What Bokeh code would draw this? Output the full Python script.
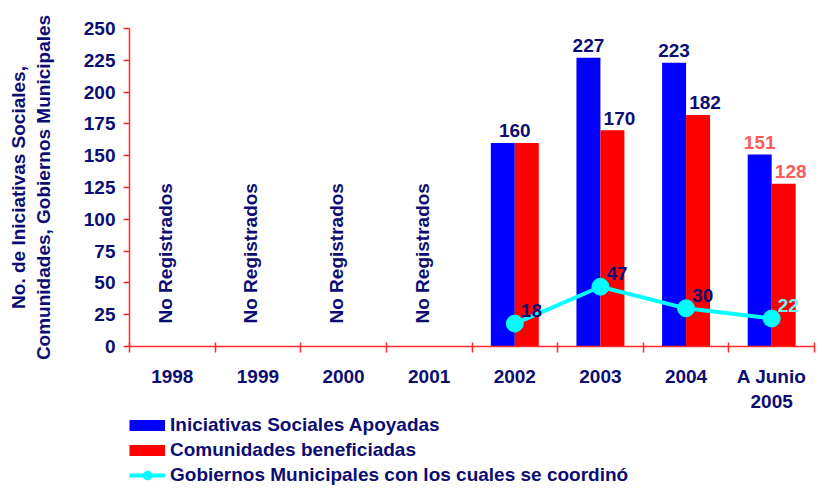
import math
from bokeh.plotting import figure
from bokeh.layouts import column
from bokeh.models import Range1d, FixedTicker, Legend, LegendItem, ColumnDataSource
from bokeh.core.properties import value
from bokeh.embed import file_html
from bokeh.resources import INLINE

# ---- data ----
categories = ["1998", "1999", "2000", "2001", "2002", "2003", "2004", "A Junio\n2005"]
iniciativas = [None, None, None, None, 160, 227, 223, 151]
comunidades = [None, None, None, None, 160, 170, 182, 128]
gobiernos = [None, None, None, None, 18, 47, 30, 22]
y_ticks = [0, 25, 50, 75, 100, 125, 150, 175, 200, 225, 250]
no_data_text = "No Registrados"
series_names = ["Iniciativas Sociales Apoyadas",
                "Comunidades beneficiadas",
                "Gobiernos Municipales con los cuales se coordinó"]
y_title = "No. de Iniciativas Sociales,\nComunidades, Gobiernos Municipales"

# ---- styles ----
FONT = "Liberation Sans"
FS = "19px"
NAVY = "#0C0C72"
BLUE = "#0000FF"
RED = "#FF0000"
CYAN = "#00FFFF"
AXIS_RED = "#FF2A2A"
SALMON = "#FF5A5A"
PALE_CYAN = "#70F4F4"
DODGE = 0.14
BAR_W = 0.28

n = len(categories)
p = figure(width=816, height=414, x_range=Range1d(-0.5, n - 0.5), y_range=Range1d(0, 250),
           output_backend="svg", toolbar_location=None,
           min_border_left=129, min_border_right=2, min_border_top=28, min_border_bottom=60)
p.outline_line_color = None
p.xgrid.visible = False
p.ygrid.visible = False
p.background_fill_color = "white"

idx = [i for i, v in enumerate(iniciativas) if v is not None]
last = n - 1

# bars
src_b = ColumnDataSource(dict(x=[i - DODGE for i in idx], top=[iniciativas[i] for i in idx]))
src_r = ColumnDataSource(dict(x=[i + DODGE for i in idx], top=[comunidades[i] for i in idx]))
rb = p.vbar(x="x", top="top", width=BAR_W, source=src_b, fill_color=BLUE, line_color=None)
rr = p.vbar(x="x", top="top", width=BAR_W, source=src_r, fill_color=RED, line_color=None)

# line
gidx = [i for i, v in enumerate(gobiernos) if v is not None]
src_g = ColumnDataSource(dict(x=gidx, y=[gobiernos[i] for i in gidx]))
rl = p.line(x="x", y="y", source=src_g, line_width=4, line_color=CYAN)
rc = p.scatter(x="x", y="y", source=src_g, size=17, fill_color=CYAN, line_color=CYAN)

# bar value labels
lx, ly, lt, lc, lo = [], [], [], [], []
for i in idx:
    col = SALMON if i == last else NAVY
    if iniciativas[i] == comunidades[i]:
        lx.append(i); ly.append(iniciativas[i]); lt.append(str(iniciativas[i])); lc.append(col); lo.append(0)
    else:
        lx.append(i - DODGE); ly.append(iniciativas[i]); lt.append(str(iniciativas[i])); lc.append(col); lo.append(0)
        lx.append(i + DODGE); ly.append(comunidades[i]); lt.append(str(comunidades[i])); lc.append(col); lo.append(7)
p.text(x="x", y="y", text="t", text_color="c", x_offset="o",
       source=ColumnDataSource(dict(x=lx, y=ly, t=lt, c=lc, o=lo)),
       text_align="center", text_baseline="alphabetic", y_offset=-12,
       text_font=value(FONT), text_font_style="bold", text_font_size=FS)

# line value labels
gc = [PALE_CYAN if i == last else NAVY for i in gidx]
p.text(x="x", y="y", text="t", text_color="c",
       source=ColumnDataSource(dict(x=gidx, y=[gobiernos[i] for i in gidx],
                                    t=[str(gobiernos[i]) for i in gidx], c=gc)),
       text_align="left", text_baseline="alphabetic", x_offset=6, y_offset=-13,
       text_font=value(FONT), text_font_style="bold", text_font_size=FS)

# "No Registrados" labels
nidx = [i for i, v in enumerate(iniciativas) if v is None]
p.text(x=nidx, y=[0] * len(nidx), text=[no_data_text] * len(nidx), angle=math.pi / 2,
       text_align="left", text_baseline="alphabetic", x_offset=-7, y_offset=-23,
       text_color=NAVY, text_font=value(FONT), text_font_style="bold", text_font_size=FS)

# axes
xa = p.xaxis[0]
xa.ticker = FixedTicker(ticks=list(range(n)), minor_ticks=[i - 0.5 for i in range(n + 1)])
xa.major_label_overrides = {i: categories[i] for i in range(n)}
xa.major_tick_line_color = None
xa.major_tick_in = 0
xa.major_tick_out = 0
xa.minor_tick_line_color = AXIS_RED
xa.minor_tick_line_width = 1.5
xa.minor_tick_in = 4
xa.minor_tick_out = 6
xa.axis_line_color = AXIS_RED
xa.axis_line_width = 1.5
xa.major_label_standoff = 13
xa.major_label_text_font = FONT
xa.major_label_text_font_style = "bold"
xa.major_label_text_font_size = FS
xa.major_label_text_color = NAVY

ya = p.yaxis[0]
ya.ticker = FixedTicker(ticks=y_ticks)
ya.major_tick_in = 0
ya.major_tick_out = 6
ya.major_tick_line_color = AXIS_RED
ya.major_tick_line_width = 1.5
ya.minor_tick_line_color = None
ya.axis_line_color = AXIS_RED
ya.axis_line_width = 1.5
ya.major_label_standoff = 8
ya.major_label_text_font = FONT
ya.major_label_text_font_style = "bold"
ya.major_label_text_font_size = FS
ya.major_label_text_color = NAVY
ya.axis_label = y_title
ya.axis_label_text_font = FONT
ya.axis_label_text_font_style = "bold"
ya.axis_label_text_font_size = FS
ya.axis_label_text_color = NAVY
ya.axis_label_standoff = 27

# ---- legend strip (separate figure, proxies hold no visible data) ----
lg = figure(width=816, height=72, x_range=Range1d(0, 1), y_range=Range1d(0, 1),
            output_backend="svg", toolbar_location=None, min_border=0)
lg.axis.visible = False
lg.xgrid.visible = False
lg.ygrid.visible = False
lg.outline_line_color = None
nan = float("nan")
pb = lg.line(x=[nan, nan], y=[nan, nan], line_width=11, line_color=BLUE)
pr = lg.line(x=[nan, nan], y=[nan, nan], line_width=11, line_color=RED)
pl = lg.line(x=[nan, nan], y=[nan, nan], line_width=4, line_color=CYAN)
ps = lg.scatter(x=[nan], y=[nan], size=17, fill_color=CYAN, line_color=CYAN)
legend = Legend(items=[LegendItem(label=series_names[0], renderers=[pb]),
                       LegendItem(label=series_names[1], renderers=[pr]),
                       LegendItem(label=series_names[2], renderers=[pl, ps])],
                location=(0, 0), orientation="vertical",
                glyph_width=36, glyph_height=22, label_height=22, spacing=3,
                label_standoff=5, padding=0, margin=0,
                border_line_color=None, background_fill_alpha=0,
                label_text_font=FONT, label_text_font_style="bold",
                label_text_font_size=FS, label_text_color=NAVY)
lg.add_layout(legend, "center")

layout = column(p, lg, spacing=0)
open("out.html", "w").write(file_html(layout, INLINE))
